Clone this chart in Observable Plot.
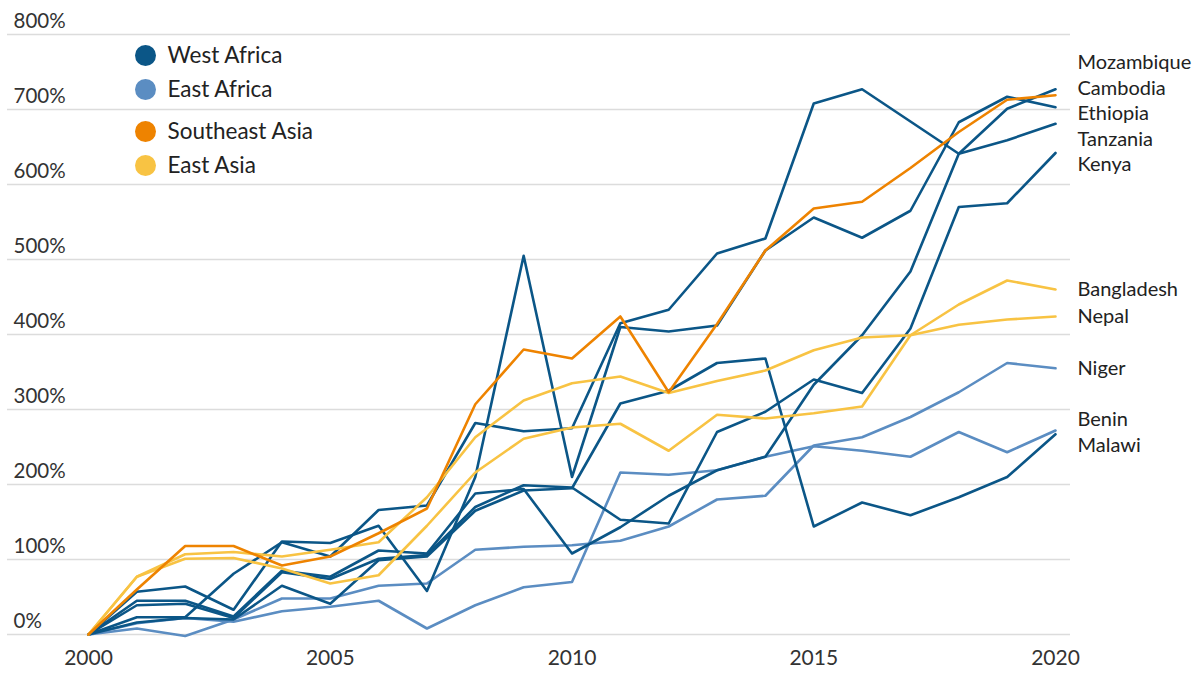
<!DOCTYPE html>
<html>
<head>
<meta charset="utf-8">
<script src="https://cdn.jsdelivr.net/npm/d3@7"></script>
<script src="https://cdn.jsdelivr.net/npm/@observablehq/plot@0.6"></script>
<style>
  html, body { margin: 0; padding: 0; background: #fff; }
  #chart { width: 1200px; height: 673px; }
  svg { font-family: Lato, "Open Sans", sans-serif; }
</style>
</head>
<body>
<div id="chart"></div>
<script>
const years = [2000,2001,2002,2003,2004,2005,2006,2007,2008,2009,2010,2011,2012,2013,2014,2015,2016,2017,2018,2019,2020];

const mozambique = [0,45,45,24,85,77,112,108,188,194,108,143,185,219,237,333,399,484,641,701,727];
const ethiopia   = [0,57,64,33,124,122,145,58,210,505,210,410,404,412,512,556,529,565,683,717,703];
const tanzania   = [0,23,23,81,123,104,166,172,282,271,275,415,433,508,528,708,727,684,641,659,681];
const kenya      = [0,39,41,22,83,74,101,106,170,199,196,153,148,270,297,340,322,408,570,575,642];
const malawi     = [0,16,22,20,65,41,99,104,165,192,195,308,325,362,368,144,176,159,183,210,267];
const niger      = [0,8,-2,20,48,48,65,68,113,117,119,125,144,180,185,252,263,290,323,362,355];
const benin      = [0,15,22,17,31,37,45,8,39,63,70,216,213,219,237,251,245,237,270,243,272];
const cambodia   = [0,60,118,118,92,104,135,168,307,380,368,424,323,414,512,568,577,622,670,713,719];
const bangladesh = [0,77,101,102,88,68,79,145,216,261,276,281,245,293,288,295,304,399,440,472,460];
const nepal      = [0,77,107,110,104,113,123,183,263,312,335,344,322,338,352,379,396,399,413,420,424];

const countries = ["Mozambique","Ethiopia","Tanzania","Kenya","Malawi","Niger","Benin","Cambodia","Bangladesh","Nepal"];
const countryValues = [mozambique, ethiopia, tanzania, kenya, malawi, niger, benin, cambodia, bangladesh, nepal];
const countryGroup = ["West Africa","West Africa","West Africa","West Africa","West Africa","East Africa","East Africa","Southeast Asia","East Asia","East Asia"];

const groups = ["West Africa","East Africa","Southeast Asia","East Asia"];
const groupColors = ["#0b5687","#5b8dc2","#ee8300","#f8c343"];

const yTicks = [0,100,200,300,400,500,600,700,800];
const xTicks = [2000,2005,2010,2015,2020];

// long table
const rows = [];
countries.forEach((c, i) => {
  years.forEach((yr, j) => rows.push({country: c, group: countryGroup[i], year: yr, value: countryValues[i][j]}));
});
const drawOrder = ["East Africa","West Africa","East Asia","Southeast Asia"];
rows.sort((a, b) => drawOrder.indexOf(a.group) - drawOrder.indexOf(b.group));

// end labels with simple collision avoidance (in data units)
const gap = 34;
let labels = countries.map((c, i) => ({name: c, end: countryValues[i][countryValues[i].length - 1]}))
  .sort((a, b) => b.end - a.end);
let clusters = labels.map(l => ({members: [l]}));
function place(cl) {
  const mean = d3.mean(cl.members, m => m.end);
  const n = cl.members.length;
  cl.members.forEach((m, k) => m.pos = mean + ((n - 1) / 2 - k) * gap);
}
clusters.forEach(place);
let changed = true;
while (changed) {
  changed = false;
  for (let i = 1; i < clusters.length; i++) {
    const a = clusters[i - 1], b = clusters[i];
    const lastA = a.members[a.members.length - 1], firstB = b.members[0];
    if (lastA.pos - firstB.pos < gap) {
      a.members = a.members.concat(b.members);
      clusters.splice(i, 1);
      place(a);
      changed = true;
      break;
    }
  }
}
const lastYear = years[years.length - 1];

// legend marks
const legendMarks = [];
const legendOffsets = [21, 55, 97, 131];
groups.forEach((g, i) => {
  legendMarks.push(Plot.dot([g], {frameAnchor: "top-left", dx: 57, dy: legendOffsets[i], r: 10.5, fill: groupColors[i], stroke: null}));
  legendMarks.push(Plot.text([g], {frameAnchor: "top-left", dx: 79, dy: legendOffsets[i], text: d => d, textAnchor: "start", fontSize: 22.5, fill: "#222", lineAnchor: "middle"}));
});

const chart = Plot.plot({
  width: 1200,
  height: 673,
  marginLeft: 88,
  marginRight: 145,
  marginTop: 34,
  marginBottom: 39,
  style: {fontFamily: "Lato, 'Open Sans', sans-serif", background: "#fff"},
  x: {domain: [years[0], lastYear]},
  y: {domain: [yTicks[0], yTicks[yTicks.length - 1]]},
  color: {domain: groups, range: groupColors},
  marks: [
    Plot.ruleY(yTicks, {stroke: "#dcdcdc", strokeWidth: 1.3, insetLeft: -81, insetRight: -15}),
    Plot.axisY(yTicks, {anchor: "left", tickSize: 0, tickPadding: 3, textAnchor: "start", dx: -72, dy: -13, fontSize: 20.5, fill: "#333", tickFormat: d => d + "%", label: null}),
    Plot.axisX(xTicks, {anchor: "bottom", tickSize: 0, tickPadding: 16, fontSize: 21, fill: "#333", tickFormat: d => String(d), label: null, style: {letterSpacing: "0.6px"}}),
    Plot.line(rows, {x: "year", y: "value", z: "country", stroke: "group", strokeWidth: 2.6}),
    Plot.text(labels, {x: () => lastYear, y: "pos", text: "name", textAnchor: "start", dx: 22, fontSize: 20, fill: "#222"}),
    ...legendMarks
  ]
});
document.getElementById("chart").appendChild(chart);
</script>
</body>
</html>
